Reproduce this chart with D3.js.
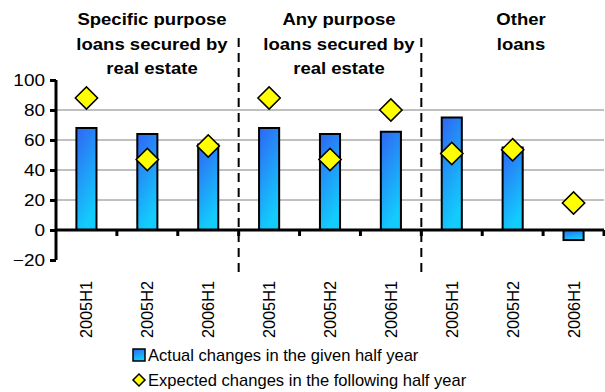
<!DOCTYPE html>
<html><head><meta charset="utf-8">
<script src="https://cdn.jsdelivr.net/npm/d3@7"></script>
<style>body{margin:0;background:#fff}svg{display:block;font-family:Arial,"Liberation Sans",sans-serif}</style>
</head><body>
<svg id="c" width="605" height="392"></svg>
<script>
const periods = ["2005H1","2005H2","2006H1","2005H1","2005H2","2006H1","2005H1","2005H2","2006H1"];
const actual = [68, 64, 57, 68, 64, 65.5, 75, 55, -6.7];
const expected = [88, 47, 56, 88, 47, 80, 51, 53.5, 18];
const groupLabels = [["Specific purpose","loans secured by","real estate"],["Any purpose","loans secured by","real estate"],["Other","loans"]];
const yTicks = [-20, 0, 20, 40, 60, 80, 100];
const legendLabels = ["Actual changes in the given half year","Expected changes in the following half year"];

const svg = d3.select("#c");
const x0 = 56, x1 = 604;
const x = d3.scaleBand().domain(d3.range(periods.length)).range([x0, x1]).padding(0);
const y = d3.scaleLinear().domain([-20, 100]).range([260, 80]);

const defs = svg.append("defs");
const g = defs.append("linearGradient").attr("id","bg").attr("x1","0").attr("y1","0").attr("x2","0.35").attr("y2","1");
g.append("stop").attr("offset","0").attr("stop-color","#2f66f4");
g.append("stop").attr("offset","1").attr("stop-color","#12ccfc");

// gridlines
svg.append("g").selectAll("line").data([20,40,60,80]).join("line")
  .attr("x1", x0).attr("x2", x1).attr("y1", d=>y(d)).attr("y2", d=>y(d))
  .attr("stroke", "#808080").attr("stroke-width", 1);

// bars
const bw = x.bandwidth()*0.33;
svg.append("g").selectAll("rect").data(actual).join("rect")
  .attr("x", (d,i)=> x(i) + x.bandwidth()/2 - bw/2)
  .attr("width", bw)
  .attr("y", d=> y(Math.max(0,d)))
  .attr("height", d=> Math.abs(y(d)-y(0)))
  .attr("fill","url(#bg)").attr("stroke","#000").attr("stroke-width",2);

// y axis
const ya = svg.append("g").attr("transform",`translate(${x0},0)`)
  .call(d3.axisLeft(y).tickValues(yTicks).tickSize(6).tickPadding(5));
ya.select(".domain").attr("stroke","#000").attr("stroke-width",3).attr("d",`M0,${y(100)}V${y(-20)}`);
ya.selectAll(".tick line").attr("stroke","#000").attr("stroke-width",3);
ya.selectAll(".tick text").attr("font-size",16.5).attr("fill","#000")
  .attr("font-family","Arial, Liberation Sans, sans-serif")
  .attr("x",-11/1.15).attr("transform","scale(1.15,1)");

// x axis at zero
const xa = svg.append("g").attr("transform",`translate(0,${y(0)})`);
xa.append("line").attr("x1",x0-1).attr("x2",x1).attr("stroke","#000").attr("stroke-width",3);
xa.selectAll("line.t").data(d3.range(1,periods.length+1)).join("line").attr("class","t")
  .attr("x1", i=> x0 + i*x.bandwidth()).attr("x2", i=> x0 + i*x.bandwidth())
  .attr("y1",0).attr("y2",6).attr("stroke","#000").attr("stroke-width",3);

// category labels (rotated)
svg.append("g").selectAll("text").data(periods).join("text")
  .attr("transform",(d,i)=>`translate(${x(i)+x.bandwidth()/2+6},281) rotate(-90)`)
  .attr("text-anchor","end").attr("font-size",16.3).attr("fill","#000").text(d=>d);

// expected diamonds
const diamond = d3.symbol().type(d3.symbolSquare).size(250);
svg.append("g").selectAll("path").data(expected).join("path")
  .attr("d", diamond())
  .attr("transform",(d,i)=>`translate(${x(i)+x.bandwidth()/2},${y(d)}) rotate(45)`)
  .attr("fill","#ffff00").attr("stroke","#000").attr("stroke-width",1.5);

// dashed separators
[3,6].forEach(i=>{
  svg.append("line").attr("x1",x(i)).attr("x2",x(i)).attr("y1",38).attr("y2",273)
    .attr("stroke","#000").attr("stroke-width",2).attr("stroke-dasharray","9,6");
});

// group labels
const gCenters = [152, 339, 521];
groupLabels.forEach((lines,gi)=>{
  lines.forEach((l,li)=> svg.append("text")
    .attr("transform",`translate(${gCenters[gi]},${25+li*24.5}) scale(1.09,1)`)
    .attr("text-anchor","middle").attr("font-size",17).attr("font-weight","bold").attr("fill","#000").text(l));
});

// legend
const lg = svg.append("g");
lg.append("rect").attr("x",133).attr("y",349).attr("width",12).attr("height",12)
  .attr("fill","url(#bg)").attr("stroke","#000").attr("stroke-width",1.5);
lg.append("path").attr("d", d3.symbol().type(d3.symbolSquare).size(72)())
  .attr("transform","translate(139,380) rotate(45)").attr("fill","#ffff00").attr("stroke","#000").attr("stroke-width",1.5);
legendLabels.forEach((l,i)=> lg.append("text")
  .attr("transform",`translate(148,${361+i*24.5}) scale(1.035,1)`)
  .attr("font-size",16).attr("fill","#000").text(l));
</script>
</body></html>
